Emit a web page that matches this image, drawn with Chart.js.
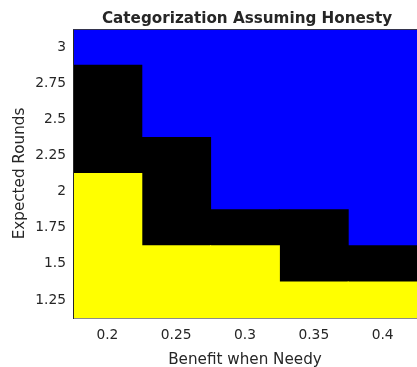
<!DOCTYPE html>
<html>
<head>
<meta charset="utf-8">
<script src="https://cdn.jsdelivr.net/npm/chart.js@4/dist/chart.umd.min.js"></script>
<style>
  html, body { margin: 0; padding: 0; background: #fff; }
  #wrap { width: 417px; height: 367px; }
</style>
</head>
<body>
<div id="wrap"><canvas id="cat" width="417" height="367"></canvas></div>
<script>
/* global Chart */
const benefits = ['0.2', '0.25', '0.3', '0.35', '0.4'];
const roundTicks = [1.25, 1.5, 1.75, 2, 2.25, 2.5, 2.75, 3];
const roundStep = 0.25;
// highest expected-rounds cell in each class, per benefit column
const yellowTop = [2, 1.5, 1.5, 1.25, 1.25];
const blackTop = [2.75, 2.25, 1.75, 1.75, 1.5];

(function () {
  const $ = (id) => document.getElementById(id);
  const half = roundStep / 2;
  const lo = roundTicks[0] - half;
  const hi = roundTicks[roundTicks.length - 1] + half;
  const ink = '#262626';
  const face = 'DejaVu Sans';

  function band(label, color, data) {
    return {
      label,
      data,
      backgroundColor: color,
      borderWidth: 0,
      barPercentage: 1,
      categoryPercentage: 1,
      grouped: false,
      inflateAmount: 0.5,
    };
  }

  const titlePlugin = {
    id: 'plotTitle',
    afterDraw(chart) {
      const { ctx, chartArea } = chart;
      ctx.save();
      // box top edge
      ctx.strokeStyle = '#33334d';
      ctx.lineWidth = 1;
      ctx.beginPath();
      ctx.moveTo(chartArea.left, chartArea.top + 0.5);
      ctx.lineTo(chartArea.right, chartArea.top + 0.5);
      ctx.stroke();
      ctx.fillStyle = ink;
      ctx.font = `bold 15.2px "${face}"`;
      ctx.textAlign = 'center';
      ctx.textBaseline = 'alphabetic';
      ctx.fillText('Categorization Assuming Honesty', (chartArea.left + chartArea.right) / 2 + 2, 22.7);
      ctx.restore();
    },
  };

  new Chart($('cat').getContext('2d'), {
    type: 'bar',
    data: {
      labels: benefits,
      datasets: [
        band('yellow', '#ffff00', yellowTop.map((t) => [lo, t + half])),
        band('black', '#000000', yellowTop.map((t, i) => [t + half, blackTop[i] + half])),
        band('blue', '#0000ff', blackTop.map((t) => [t + half, hi])),
      ],
    },
    options: {
      responsive: false,
      animation: false,
      layout: { padding: { top: 29, right: 0, left: 0, bottom: 0 } },
      plugins: {
        legend: { display: false },
        tooltip: { enabled: false },
        title: { display: false },
      },
      scales: {
        x: {
          grid: { display: false, drawTicks: false },
          border: { display: true, color: '#8c8c8c', width: 1, z: 1 },
          ticks: { color: ink, padding: 9, font: { family: face, size: 13.8 } },
          title: {
            display: true,
            text: 'Benefit when Needy',
            color: ink,
            font: { family: face, size: 15.2, lineHeight: 0.9 },
            padding: 0,
          },
          afterFit(scale) { scale.height = 49; },
        },
        y: {
          min: lo,
          max: hi,
          grid: { display: false, drawTicks: false },
          border: { display: true, color: ink, width: 1, z: 1 },
          afterBuildTicks(scale) { scale.ticks = roundTicks.map((v) => ({ value: v })); },
          ticks: {
            color: ink,
            padding: 7,
            font: { family: face, size: 13.8 },
            callback: (v) => String(v),
          },
          title: {
            display: true,
            text: 'Expected Rounds',
            color: ink,
            font: { family: face, size: 15.2, lineHeight: 1.2 },
            padding: { top: 10.6, bottom: 0 },
          },
          afterFit(scale) { scale.width = 73; },
        },
      },
    },
    plugins: [titlePlugin],
  });
})();
</script>
</body>
</html>
